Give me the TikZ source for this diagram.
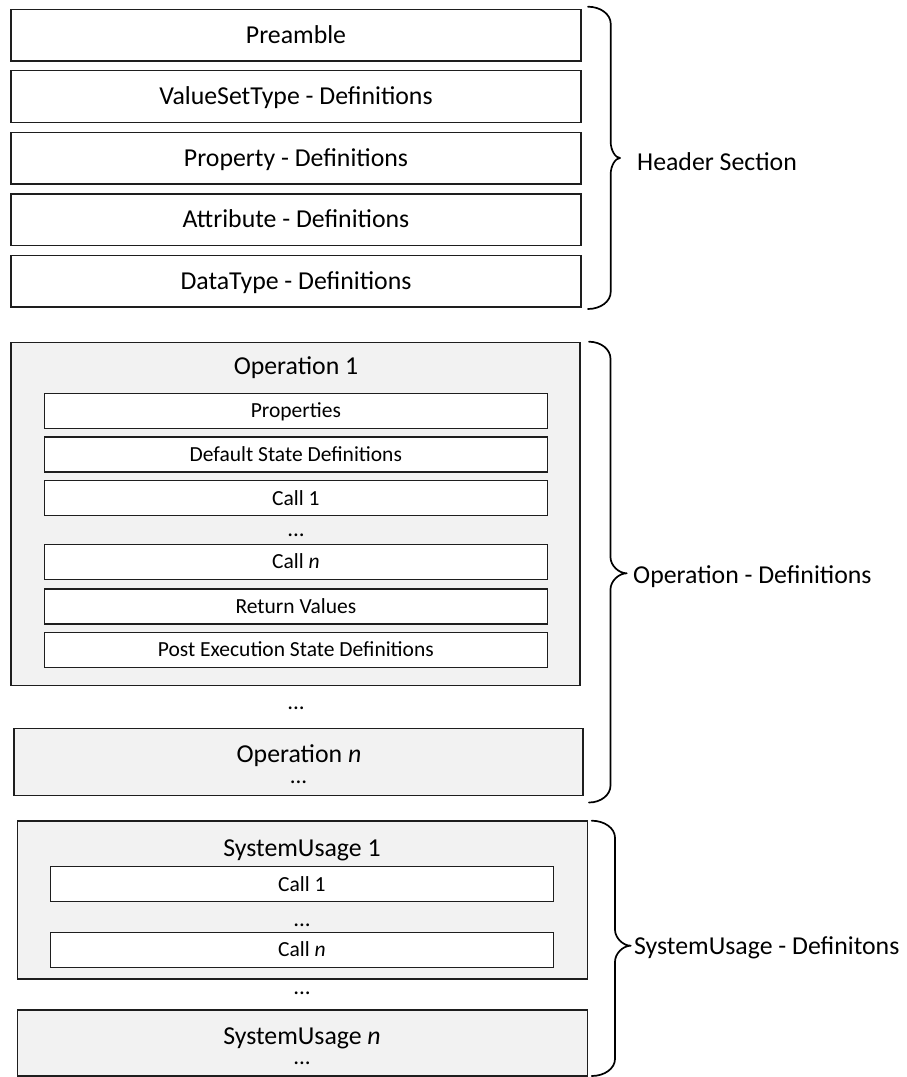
\documentclass[tikz,border=0pt]{standalone}
\usepackage{fontspec}
\setmainfont{Carlito}
\definecolor{linec}{HTML}{1E1E1E}
\definecolor{boxgray}{HTML}{F2F2F2}
% right curly brace: #1 end x, #2 stem x, #3 tip x, #4 top y, #5 tip y, #6 bottom y
\newcommand{\drawrbrace}[6]{%
  \draw[bracepath]
    (#1,#4) .. controls ({0.45*#1+0.55*#2},#4) and (#2,{#4+7.5}) .. (#2,{#4+17})
    -- (#2,{#5-16})
    .. controls (#2,{#5-8}) and ({0.5*#2+0.5*#3},#5) .. (#3,#5)
    .. controls ({0.5*#2+0.5*#3},#5) and (#2,{#5+8}) .. (#2,{#5+16})
    -- (#2,{#6-17})
    .. controls (#2,{#6-7.5}) and ({0.45*#1+0.55*#2},#6) .. (#1,#6);
}
\begin{document}
\begin{tikzpicture}[
  x=1pt, y=-1pt,
  frame/.style={draw=linec, line width=1.3pt, inner sep=0pt, fill=white},
  grayframe/.style={frame, fill=boxgray},
  big/.style={font=\fontsize{25.8}{30}\selectfont, text height=16.3pt, text depth=0pt, inner sep=0pt},
  small/.style={font=\fontsize{21.5}{26}\selectfont, text height=13.6pt, text depth=0pt, inner sep=0pt},
  dots/.style={font=\fontsize{23}{27}\selectfont, text height=3pt, text depth=0pt, inner sep=0pt, anchor=base},
  hdrbox/.style={frame, big, minimum width=570, minimum height=51.7},
  subbox/.style={frame, small, minimum width=503.1, minimum height=35},
  bracepath/.style={draw=black, line width=1.7pt, line join=round, line cap=round},
]
\useasboundingbox (0,0) rectangle (907,1077);

% header section
\node[hdrbox] (pre) at (296,35.15) {Preamble};
\node[hdrbox] (vst) at (296,96.5)  {ValueSetType - Definitions};
\node[hdrbox] (prp) at (296,158)   {Property - Definitions};
\node[hdrbox] (att) at (296,219.7) {Attribute - Definitions};
\node[hdrbox] (dty) at (296,281.15){DataType - Definitions};

% operation 1
\node[grayframe, minimum width=569, minimum height=342.6] (op1) at (295.5,514) {};
\node[big] (op1t) at (296,366.7) {Operation 1};
\node[subbox] (props) at (295.85,411)   {Properties};
\node[subbox] (dsd)   at (295.85,454.5) {Default State Definitions};
\node[subbox] (oc1)   at (295.85,498.2) {Call 1};
\node[dots]   (ocd)   at (296,536.5)    {...};
\node[subbox] (ocn)   at (295.85,562)   {Call \textit{n}};
\node[subbox] (ret)   at (295.85,606.5) {Return Values};
\node[subbox] (psd)   at (295.85,649.8) {Post Execution State Definitions};

\node[dots] (opd) at (296,709.2) {...};

% operation n
\node[grayframe, minimum width=569, minimum height=67] (opn) at (298.5,762.2) {};
\node[big]  (opnt) at (299,754.3) {Operation \textit{n}};
\node[dots] (opnd) at (298.5,783.2) {...};

% system usage 1
\node[grayframe, minimum width=570.2, minimum height=158] (su1) at (302.4,900) {};
\node[big] (su1t) at (302,848.3) {SystemUsage 1};
\node[frame, small, minimum width=503.2, minimum height=35] (sc1) at (301.9,884.2) {Call 1};
\node[dots] (scd) at (302,926.5) {...};
\node[frame, small, minimum width=503.2, minimum height=35] (scn) at (301.9,949.7) {Call \textit{n}};

\node[dots] (sud) at (302,994.8) {...};

% system usage n
\node[grayframe, minimum width=570.2, minimum height=66] (sun) at (302.4,1042.9) {};
\node[big]  (sunt) at (302,1036.7) {SystemUsage \textit{n}};
\node[dots] (sund) at (302,1064.5) {...};

% braces and their labels
\drawrbrace{588}{610.7}{620}{6.7}{158}{309}
\drawrbrace{589}{610.5}{626.7}{341.7}{573.3}{802.5}
\drawrbrace{591.7}{615}{630.7}{820.7}{945.7}{1076}

\node[big, anchor=west] (hdrlbl) at (637,162)   {Header Section};
\node[big, anchor=west] (oplbl)  at (633,575)   {Operation - Definitions};
\node[big, anchor=west] (sulbl)  at (634,946.7) {SystemUsage - Definitons};
\end{tikzpicture}
\end{document}
